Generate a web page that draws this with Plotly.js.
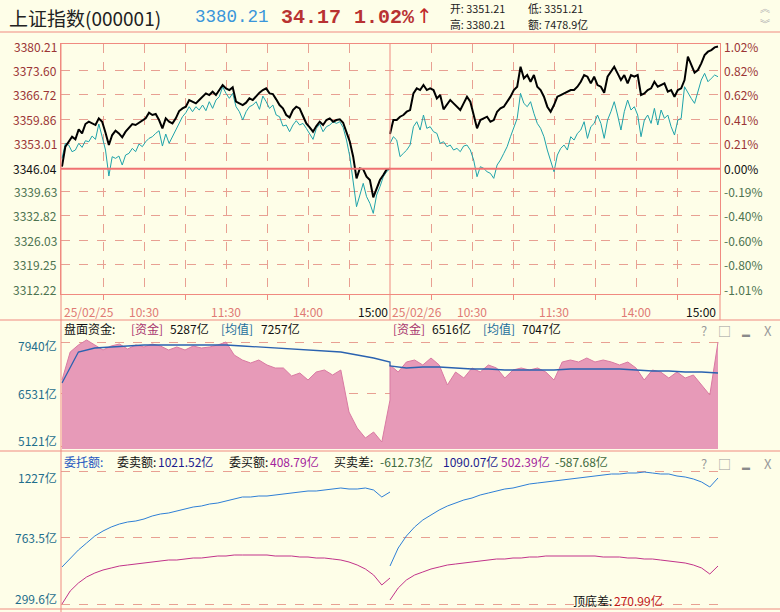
<!DOCTYPE html>
<html>
<head>
<meta charset="utf-8">
<script src="https://cdn.plot.ly/plotly-3.0.1.min.js"></script>
<style>
  html, body { margin: 0; padding: 0; background: #FEFEE8; }
  #chart { width: 780px; height: 612px; }
</style>
</head>
<body>
<div id="chart"></div>
<script>
// ---------------- DATA ----------------
const prevClose = 3346.04;
const dayLabels = ['25/02/25', '25/02/26'];
const timeLabels = ['10:30', '11:30', '14:00'];

// Main panel: index (black) and unweighted line (cyan), 99 samples per day
const day1Black = [3346.60,3352.20,3353.59,3354.99,3354.25,3357.05,3355.93,3358.54,3359.19,3358.72,
3358.26,3360.12,3359.19,3356.11,3352.66,3355.46,3356.67,3355.93,3354.81,3356.39,
3357.61,3358.54,3358.26,3358.91,3359.47,3360.12,3361.71,3361.06,3361.34,3359.66,
3357.33,3360.12,3359.19,3358.72,3360.12,3362.18,3362.92,3363.39,3365.25,3364.69,
3364.32,3365.25,3366.19,3367.12,3366.65,3367.59,3366.65,3368.05,3369.45,3368.52,
3368.05,3368.80,3364.79,3364.32,3363.85,3364.51,3365.72,3365.25,3366.37,3367.31,
3368.05,3368.52,3367.12,3366.93,3365.44,3363.85,3362.92,3361.06,3360.40,3362.46,
3363.39,3362.92,3360.78,3358.72,3357.61,3356.39,3357.98,3359.19,3358.26,3359.66,
3360.12,3359.19,3359.66,3359.84,3358.91,3356.39,3353.59,3349.40,3343.34,3346.13,
3345.85,3343.80,3342.87,3338.02,3340.54,3342.87,3344.27,3345.85,3346.04];
const day1Cyan = [3348.93,3353.13,3352.66,3350.80,3351.26,3353.13,3352.01,3353.87,3353.59,3355.18,
3354.25,3358.54,3354.99,3351.26,3343.99,3349.40,3348.93,3349.58,3347.07,3349.86,
3350.33,3351.73,3350.80,3352.94,3352.20,3353.59,3354.53,3354.99,3355.93,3356.67,
3352.38,3355.74,3353.13,3354.99,3356.86,3358.72,3360.59,3361.71,3363.39,3361.99,
3363.39,3362.46,3363.85,3362.27,3364.79,3362.92,3365.25,3366.19,3368.98,3367.12,
3365.72,3367.12,3363.39,3361.99,3359.66,3361.99,3363.39,3363.85,3364.79,3362.64,
3366.37,3364.79,3362.92,3363.85,3361.06,3360.59,3357.98,3358.26,3356.39,3358.26,
3359.47,3358.26,3358.72,3357.33,3355.93,3354.25,3357.33,3358.54,3356.39,3357.79,
3358.26,3359.19,3358.72,3359.19,3357.61,3354.06,3349.40,3341.94,3335.41,3338.67,
3341.94,3338.21,3336.34,3333.54,3338.67,3341.00,3343.80,3345.20,3346.04];
const day2Black = [3355.74,3359.66,3359.66,3360.59,3361.06,3361.99,3362.46,3367.12,3368.52,3368.05,
3369.45,3368.05,3368.52,3368.05,3365.72,3366.65,3362.64,3363.85,3365.25,3364.32,
3363.39,3362.46,3364.32,3366.19,3364.79,3361.06,3357.33,3359.66,3360.12,3360.59,
3359.19,3359.66,3361.99,3362.92,3363.39,3364.79,3366.19,3368.05,3368.98,3374.58,
3371.32,3372.25,3370.38,3372.25,3368.98,3368.05,3366.19,3363.39,3361.99,3363.85,
3366.19,3366.65,3367.12,3367.59,3368.05,3368.05,3368.98,3370.38,3372.25,3371.78,
3369.92,3371.78,3369.45,3368.98,3367.31,3371.78,3373.18,3374.58,3372.72,3370.85,
3372.25,3369.92,3372.25,3371.78,3372.25,3366.65,3367.12,3368.05,3368.52,3370.38,
3368.98,3369.45,3369.92,3367.59,3368.05,3366.19,3368.05,3368.52,3370.85,3377.38,
3375.05,3372.90,3373.65,3375.51,3377.84,3378.78,3379.24,3379.99,3380.21];
const day2Cyan = [3353.13,3354.99,3354.06,3349.40,3350.33,3351.26,3352.66,3357.79,3359.19,3356.86,
3361.06,3357.33,3357.79,3356.39,3355.93,3353.13,3353.59,3352.20,3352.66,3351.26,
3351.73,3350.80,3352.38,3352.66,3351.26,3348.47,3343.80,3346.60,3346.13,3345.20,
3344.73,3343.34,3347.07,3348.47,3350.33,3352.20,3354.99,3357.79,3360.12,3367.12,
3364.32,3363.39,3364.79,3361.52,3358.72,3357.33,3354.99,3351.26,3348.47,3345.20,
3349.86,3351.73,3352.66,3351.26,3354.99,3354.06,3355.93,3356.86,3359.19,3354.53,
3357.79,3358.72,3361.06,3358.72,3354.53,3359.66,3361.99,3364.79,3361.06,3356.86,
3361.99,3365.25,3362.46,3363.39,3361.06,3354.99,3359.66,3361.06,3358.72,3362.92,
3358.26,3362.46,3360.12,3361.06,3357.79,3355.46,3359.66,3360.12,3368.98,3367.12,
3365.72,3364.32,3367.59,3370.85,3372.72,3370.38,3371.32,3372.25,3371.78];

// Main panel axis labels
const priceTicks = [3380.21,3373.60,3366.72,3359.86,3353.01,3346.04,3339.63,3332.82,3326.03,3319.25,3312.22];
const pctTicks = ['1.02%','0.82%','0.62%','0.41%','0.21%','0.00%','-0.19%','-0.40%','-0.60%','-0.80%','-1.01%'];
const priceGrid = [3373.60,3366.72,3359.86,3353.01,3339.63,3332.82,3326.03,3319.25];

// Panel 2: 盘面资金 (亿)
const fund1 = [6910,7669,7859,7994,7859,7723,7832,7886,7750,7859,
7805,7886,7832,7723,7805,7723,7832,7777,7805,7859,
7940,7588,7452,7371,7452,7317,7235,7235,7019,7100,
6910,7127,7181,7046,7181,6043,5609,5338,5501,5230,6368];
const fund2 = [7317,7127,7398,7452,7317,7506,7317,6775,7127,6964,
7235,7127,7317,7235,6964,7181,7235,7181,7235,7127,
6910,7398,7452,7398,7506,7398,7452,7398,7317,7398,
7235,6910,7181,7127,6964,7127,6964,7046,6775,6504,7940];
const fundAvg1 = [6829,7669,7777,7805,7832,7859,7859,7859,7859,7859,7859,7832,7805,7777,7750,7723,7696,7669,7588,7506,7398];
const fundAvg2 = [7290,7235,7262,7262,7235,7208,7208,7181,7181,7181,7181,7208,7208,7208,7208,7181,7154,7154,7127,7127,7100];
const fundTicks = [7940, 6531, 5121];

// Panel 3: 委托额 (亿)
const sell1 = [557.9,620.6,676.4,725.2,774.0,808.8,836.7,857.6,871.5,878.5,
892.4,913.4,927.3,934.3,948.2,962.1,976.1,983.1,997.0,1004.0,
1017.9,1031.8,1045.8,1045.8,1052.8,1052.8,1059.7,1066.7,1073.7,1080.6,
1087.6,1087.6,1094.6,1101.5,1108.5,1101.5,1101.5,1108.5,1094.6,1045.8,1080.6];
const sell2 = [564.9,690.3,774.0,836.7,885.5,920.3,955.2,983.1,1004.0,1024.9,
1038.8,1059.7,1073.7,1087.6,1101.5,1108.5,1122.5,1136.4,1143.4,1150.3,
1157.3,1164.3,1171.2,1178.2,1185.2,1192.2,1199.1,1206.1,1206.1,1213.1,
1213.1,1220.0,1213.1,1206.1,1206.1,1192.2,1185.2,1171.2,1150.3,1115.5,1178.2];
const buy1 = [300.0,390.6,446.4,488.2,516.1,537.0,550.9,564.9,571.8,578.8,
585.8,592.7,599.7,606.7,606.7,613.6,620.6,620.6,627.6,634.6,
634.6,641.5,641.5,641.5,641.5,641.5,634.6,634.6,634.6,627.6,
627.6,620.6,620.6,613.6,606.7,592.7,571.8,543.9,502.1,432.4,481.2];
const buy2 = [327.9,411.5,467.3,502.1,523.0,543.9,557.9,571.8,578.8,585.8,
592.7,599.7,606.7,613.6,613.6,620.6,620.6,627.6,627.6,634.6,
634.6,634.6,634.6,634.6,634.6,634.6,627.6,627.6,627.6,620.6,
620.6,613.6,613.6,606.7,599.7,592.7,585.8,571.8,550.9,509.1,564.9];
const orderTicks = [1227, 763.5, 299.6];
const orderTickText = ['1227亿', '763.5亿', '299.6亿'];

// ---------------- HELPERS ----------------
const W = 780, H = 612;
const BG = '#FEFEE8';
const FRAME = '#F08A80';
const GRID = '#E8A092';
const CJK = 'Noto Sans CJK SC';
const MONO = 'Liberation Mono';
const POS = '#9B3535', NEG = '#4D7350';

function dayX(n, day) {            // minute positions of n samples across one trading day
  const out = [];
  for (let i = 0; i < n; i++) out.push(day * 240 + i * 240 / (n - 1));
  return out;
}
const px = v => v / W;
const py = v => 1 - v / H;
function A(text, x, y, o) {
  o = o || {};
  return {
    xref: 'paper', yref: 'paper', x: px(x), y: py(y),
    xanchor: o.xa || 'left', yanchor: 'middle', showarrow: false,
    text: text, align: 'left',
    font: { family: o.family || CJK, size: o.size || 12, color: o.color || '#111' }
  };
}

const XR = [-1 / 1.36667, 480 + 2 / 1.36667];
const XD = [px(61), px(720)];
const mainRange = [prevClose - (294 - 168.7) * 0.2798, prevClose + (168.7 - 44) * 0.2798];
const fundRange = [5040.3, 8183.9];
const orderRange = [279.1, 1261.9];

// ---------------- TRACES ----------------
const traces = [];
traces.push({ x: dayX(99, 0), y: day1Cyan, type: 'scatter', mode: 'lines', line: { color: '#1FA3AA', width: 1 }, xaxis: 'x', yaxis: 'y' });
traces.push({ x: dayX(99, 1), y: day2Cyan, type: 'scatter', mode: 'lines', line: { color: '#1FA3AA', width: 1 }, xaxis: 'x', yaxis: 'y' });
traces.push({ x: dayX(99, 0), y: day1Black, type: 'scatter', mode: 'lines', line: { color: '#000', width: 2 }, xaxis: 'x', yaxis: 'y' });
traces.push({ x: dayX(99, 1), y: day2Black, type: 'scatter', mode: 'lines', line: { color: '#000', width: 2 }, xaxis: 'x', yaxis: 'y' });

traces.push({ x: dayX(41, 0).concat(dayX(41, 1)), y: fund1.concat(fund2), type: 'scatter', mode: 'lines',
  fill: 'tozeroy', fillcolor: '#E79AB8', line: { color: '#D97AA2', width: 1 }, xaxis: 'x2', yaxis: 'y2' });
traces.push({ x: dayX(21, 0).concat(dayX(21, 1)), y: fundAvg1.concat(fundAvg2), type: 'scatter', mode: 'lines',
  line: { color: '#2A62B0', width: 1.3 }, xaxis: 'x2', yaxis: 'y2' });

traces.push({ x: dayX(41, 0), y: sell1, type: 'scatter', mode: 'lines', line: { color: '#2E7FD6', width: 1 }, xaxis: 'x3', yaxis: 'y5' });
traces.push({ x: dayX(41, 1), y: sell2, type: 'scatter', mode: 'lines', line: { color: '#2E7FD6', width: 1 }, xaxis: 'x3', yaxis: 'y5' });
traces.push({ x: dayX(41, 0), y: buy1, type: 'scatter', mode: 'lines', line: { color: '#C2338A', width: 1 }, xaxis: 'x3', yaxis: 'y5' });
traces.push({ x: dayX(41, 1), y: buy2, type: 'scatter', mode: 'lines', line: { color: '#C2338A', width: 1 }, xaxis: 'x3', yaxis: 'y5' });

// ---------------- AXES ----------------
const gridTimes = [30, 60, 90, 120, 150, 180, 210, 270, 300, 330, 360, 390, 420, 450];
function colorFor(i) { return i < 5 ? POS : (i === 5 ? '#111' : NEG); }

const layout = {
  width: W, height: H,
  margin: { l: 0, r: 0, t: 0, b: 0 },
  paper_bgcolor: BG, plot_bgcolor: BG,
  showlegend: false,
  xaxis: {
    domain: XD, range: XR, anchor: 'y',
    tickmode: 'array', tickvals: gridTimes, showticklabels: false, ticks: '',
    showgrid: true, gridcolor: GRID, griddash: 'dash', gridwidth: 1,
    zeroline: false, showline: true, mirror: true, linecolor: FRAME, linewidth: 1,
    minor: { tickmode: 'array', tickvals: [30, 90, 150, 210, 270, 330, 390, 450], ticks: 'outside', ticklen: 5, tickcolor: FRAME, showgrid: false }
  },
  yaxis: {
    domain: [py(294), py(44)], range: mainRange, anchor: 'x',
    tickmode: 'array', tickvals: priceGrid, showticklabels: false, ticks: '',
    showgrid: true, gridcolor: GRID, griddash: 'dash', gridwidth: 1,
    zeroline: false, showline: true, mirror: true, linecolor: FRAME, linewidth: 1
  },
  xaxis2: {
    domain: XD, range: XR, anchor: 'y2', showticklabels: false, ticks: '',
    showgrid: false, zeroline: false, showline: false
  },
  yaxis2: {
    domain: [py(449), py(333)], range: fundRange, anchor: 'x2',
    tickmode: 'array', tickvals: fundTicks, showticklabels: false, ticks: '',
    showgrid: true, gridcolor: GRID, griddash: 'dash', zeroline: false, showline: false
  },
  xaxis3: {
    domain: XD, range: XR, anchor: 'y5', showticklabels: false, ticks: '',
    showgrid: false, zeroline: false, showline: false
  },
  yaxis5: {
    domain: [py(607), py(466)], range: orderRange, anchor: 'x3',
    tickmode: 'array', tickvals: orderTicks, showticklabels: false, ticks: '',
    showgrid: true, gridcolor: GRID, griddash: 'dash', zeroline: false, showline: false
  },
  shapes: [
    { type: 'line', xref: 'paper', yref: 'paper', x0: 0, x1: 1, y0: py(32), y1: py(32), line: { color: FRAME, width: 1 } },
    { type: 'line', xref: 'paper', yref: 'paper', x0: 0, x1: 1, y0: py(320), y1: py(320), line: { color: FRAME, width: 1 } },
    { type: 'line', xref: 'paper', yref: 'paper', x0: 0, x1: 1, y0: py(451), y1: py(451), line: { color: FRAME, width: 1 } },
    { type: 'line', xref: 'paper', yref: 'paper', x0: 0, x1: 1, y0: py(609), y1: py(609), line: { color: FRAME, width: 1 } },
    { type: 'line', xref: 'paper', yref: 'paper', x0: px(61), x1: px(61), y0: 0, y1: py(44), line: { color: FRAME, width: 1 } },
    { type: 'line', xref: 'paper', yref: 'paper', x0: px(720), x1: px(720), y0: py(320), y1: py(294), line: { color: FRAME, width: 1 } },
    { type: 'line', xref: 'x', yref: 'paper', x0: 240, x1: 240, y0: py(320), y1: py(44), line: { color: FRAME, width: 1 } },
    { type: 'line', xref: 'paper', yref: 'y', x0: px(61), x1: px(720), y0: prevClose, y1: prevClose, line: { color: '#F07272', width: 2 } }
  ],
  annotations: []
};

const ann = layout.annotations;
// header
ann.push(A('上证指数(000001)', 7, 17, { size: 19, color: '#222' }));
ann.push(A('3380.21', 193, 17, { family: MONO, size: 17.5, color: '#3A96DA' }));
ann.push(A('<b>34.17</b>', 279, 17, { family: MONO, size: 20, color: '#B83232' }));
ann.push(A('<b>1.02%</b>', 352, 17, { family: MONO, size: 20, color: '#B83232' }));
ann.push(A('↑', 425, 16, { xa: 'center', size: 20, color: '#C02828', family: 'DejaVu Sans' }));
ann.push(A('开: 3351.21', 448, 8, { color: '#222', size: 10.8 }));
ann.push(A('高: 3380.21', 448, 24, { color: '#222', size: 10.8 }));
ann.push(A('低: 3351.21', 526, 8, { color: '#222', size: 10.8 }));
ann.push(A('额: 7478.9亿', 526, 24, { color: '#222', size: 10.8 }));
ann.push(A('︽', 765, 8, { xa: 'center', color: '#B0B0B0', size: 10 }));
ann.push(A('︾', 765, 24, { xa: 'center', color: '#B0B0B0', size: 10 }));

// main panel price labels (left) and percent labels (right)
priceTicks.forEach((v, i) => {
  ann.push({ xref: 'paper', yref: 'y', x: px(59), y: v, xanchor: 'right', yanchor: 'middle', showarrow: false,
    text: v.toFixed(2), font: { family: CJK, size: 12, color: colorFor(i) } });
  ann.push({ xref: 'paper', yref: 'y', x: px(722), y: v, xanchor: 'left', yanchor: 'middle', showarrow: false,
    text: pctTicks[i], font: { family: CJK, size: 12, color: colorFor(i) } });
});

// x-axis band labels
const bandY = 311;
[0, 1].forEach(d => {
  ann.push({ xref: 'x', yref: 'paper', x: d * 240, y: py(bandY), xanchor: 'left', yanchor: 'middle', showarrow: false,
    text: dayLabels[d], font: { family: CJK, size: 12, color: '#E07A74' } });
  timeLabels.forEach((t, j) => {
    ann.push({ xref: 'x', yref: 'paper', x: d * 240 + 60 * (j + 1), y: py(bandY), xanchor: 'center', yanchor: 'middle', showarrow: false,
      text: t, font: { family: CJK, size: 12, color: '#E07A74' } });
  });
  ann.push({ xref: 'x', yref: 'paper', x: d * 240 + 240, y: py(bandY), xanchor: 'right', yanchor: 'middle', showarrow: false,
    text: '15:00', font: { family: CJK, size: 12, color: '#111' } });
});

// panel 2 header
const h2 = 328;
ann.push(A('盘面资金:', 62, h2));
ann.push(A('[资金]', 129, h2, { color: '#A8356E' }));
ann.push(A('5287亿', 168, h2));
ann.push(A('[均值]', 219, h2, { color: '#1F6F9C' }));
ann.push(A('7257亿', 259, h2));
ann.push(A('[资金]', 391, h2, { color: '#A8356E' }));
ann.push(A('6516亿', 430, h2));
ann.push(A('[均值]', 481, h2, { color: '#1F6F9C' }));
ann.push(A('7047亿', 520, h2));

// panel 3 header
const h3 = 461;
ann.push(A('委托额:', 62, h3, { color: '#2557C0' }));
ann.push(A('委卖额:', 115, h3));
ann.push(A('1021.52亿', 156, h3, { color: '#1C1C8E' }));
ann.push(A('委买额:', 227, h3));
ann.push(A('408.79亿', 268, h3, { color: '#A3239C' }));
ann.push(A('买卖差:', 332, h3));
ann.push(A('-612.73亿', 378, h3, { color: '#3F6A40' }));
ann.push(A('1090.07亿', 441, h3, { color: '#1C1C8E' }));
ann.push(A('502.39亿', 499, h3, { color: '#A3239C' }));
ann.push(A('-587.68亿', 553, h3, { color: '#3F6A40' }));

// window icons
[330, 463].forEach(y => {
  ann.push(A('?', 704, y, { xa: 'center', color: '#9A9A9A', size: 13 }));
  ann.push(A('□', 724, y, { xa: 'center', color: '#9A9A9A', size: 13 }));
  ann.push(A('▬', 746, y + 3, { xa: 'center', color: '#8A8A8A', size: 8 }));
  ann.push(A('X', 768, y, { xa: 'center', color: '#9A9A9A', size: 13 }));
});

// panel 2 / 3 axis labels (positive yshift moves up)
const fundShift = [-3, 0, 6];
fundTicks.forEach((v, i) => {
  ann.push({ xref: 'paper', yref: 'y2', x: px(59), y: v, yshift: fundShift[i], xanchor: 'right', yanchor: 'middle', showarrow: false,
    text: v + '亿', font: { family: CJK, size: 12, color: '#1F6E8C' } });
});
const orderShift = [-6, 0, 6];
orderTicks.forEach((v, i) => {
  ann.push({ xref: 'paper', yref: 'y5', x: px(59), y: v, yshift: orderShift[i], xanchor: 'right', yanchor: 'middle', showarrow: false,
    text: orderTickText[i], font: { family: CJK, size: 12, color: '#1F6E8C' } });
});

// bottom note
ann.push(A('顶底差:', 571, 600, { color: '#111' }));
ann.push(A('270.99亿', 612, 600, { color: '#C01818' }));

Plotly.newPlot('chart', traces, layout, { staticPlot: true, displayModeBar: false });
</script>
</body>
</html>
